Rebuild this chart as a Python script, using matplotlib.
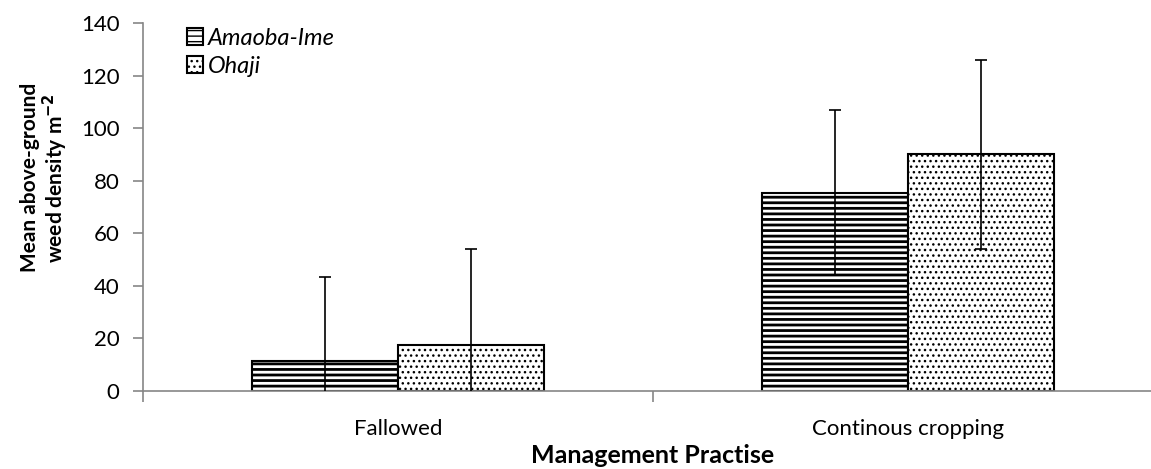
import numpy as np
import matplotlib
matplotlib.use("Agg")
import matplotlib.pyplot as plt

# dane
categories = ["Fallowed", "Continous cropping"]
amaoba = [11.5, 75.5]
ohaji = [17.5, 90]
amaoba_err = [32, 31.5]
ohaji_err = [36.5, 36]

plt.rcParams["font.family"] = ["Lato", "DejaVu Sans"]

fig = plt.figure(figsize=(11.51, 4.69), dpi=100)
ax = fig.add_axes([0.1242, 0.1663, 0.8862, 0.7846])

x = np.arange(len(categories))
w = 0.286
grey = "#868686"

with plt.rc_context({"hatch.linewidth": 2.0}):
    b1 = ax.bar(x - w / 2, amaoba, w, color="white", edgecolor="black",
                hatch="---", linewidth=1.5, label="Amaoba-Ime", zorder=2)
with plt.rc_context({"hatch.linewidth": 1.0}):
    b2 = ax.bar(x + w / 2, ohaji, w, color="white", edgecolor="black",
                hatch="...", linewidth=1.5, label="Ohaji", zorder=2)

ax.errorbar(x - w / 2, amaoba, yerr=amaoba_err, fmt="none", ecolor="black",
            elinewidth=1.2, capsize=4, capthick=1.2, zorder=3)
ax.errorbar(x + w / 2, ohaji, yerr=ohaji_err, fmt="none", ecolor="black",
            elinewidth=1.2, capsize=4, capthick=1.2, zorder=3)

ax.set_xlim(-0.5, 1.5)
ax.set_ylim(0, 140)
ax.set_yticks(np.arange(0, 141, 20))
ax.set_xticks([-0.5, 0.5, 1.5], minor=False)
ax.set_xticklabels([])
ax.set_xticks(x, minor=True)
ax.set_xticklabels(categories, minor=True)
ax.tick_params(axis="x", which="minor", length=0, pad=20, labelsize=16)
ax.tick_params(axis="x", which="major", length=8, color=grey, width=1.2)
ax.tick_params(axis="y", length=7, color=grey, width=1.2, labelsize=16, pad=10)

for s in ["top", "right"]:
    ax.spines[s].set_visible(False)
for s in ["left", "bottom"]:
    ax.spines[s].set_color(grey)
    ax.spines[s].set_linewidth(1.2)

ax.set_xlabel("Management Practise", fontsize=18, fontweight="bold", labelpad=4)
ax.set_ylabel("Mean above-ground\nweed density m$^{\\mathbf{-2}}$", fontsize=15,
              fontweight="bold", labelpad=8, linespacing=1.0)
ax.yaxis.set_label_coords(-0.072, 0.58)

ax.legend(loc="upper left", bbox_to_anchor=(0.022, 1.045), frameon=False,
          handlelength=0.7, handleheight=0.7, handletextpad=0.2,
          labelspacing=0.3, prop={"style": "italic", "size": 17})

fig.savefig("out.png", dpi=100)
